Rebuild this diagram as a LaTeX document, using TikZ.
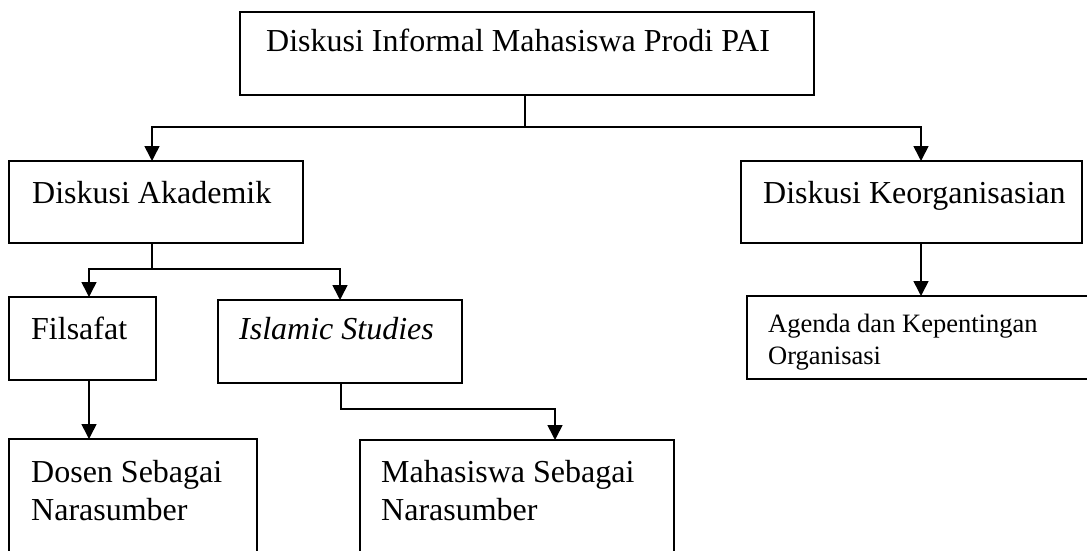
\documentclass[tikz,border=0pt]{standalone}
\usepackage{fontspec}
\setmainfont{Liberation Serif}
\usetikzlibrary{arrows.meta,calc}
\begin{document}
\begin{tikzpicture}[x=1pt,y=-1pt,
  box/.style={draw,line width=1.6pt,anchor=north west,inner sep=0pt,outer sep=0pt},
  lbl/.style={anchor=base west,inner sep=0pt,font=\fontsize{32}{38}\selectfont},
  smalllbl/.style={anchor=base west,inner sep=0pt,font=\fontsize{26.5}{32}\selectfont},
  conn/.style={line width=1.6pt},
  arr/.style={line width=1.6pt,-{Triangle[width=15pt,length=15pt]}}]
\useasboundingbox (0,0) rectangle (1087,551);
\clip (0,0) rectangle (1087,551);
% boxes
\node[box,minimum width=574pt,minimum height=83pt] (top) at (240,12) {};
\node[box,minimum width=294pt,minimum height=82pt] (ak) at (9,161) {};
\node[box,minimum width=341pt,minimum height=82pt] (ko) at (741,161) {};
\node[box,minimum width=147pt,minimum height=83pt] (fil) at (9,297) {};
\node[box,minimum width=244pt,minimum height=83pt] (isl) at (218,300) {};
\node[box,minimum width=400pt,minimum height=83pt] (ag) at (747,296) {};
\node[box,minimum width=248pt,minimum height=200pt] (dos) at (9,439) {};
\node[box,minimum width=314pt,minimum height=200pt] (mah) at (360,440) {};
% texts
\node[lbl] (ttop) at (266,52) {Diskusi Informal Mahasiswa Prodi PAI};
\node[lbl] (tak) at (32,203) {Diskusi Akademik};
\node[lbl] (tko) at (763,203) {Diskusi Keorganisasian};
\node[lbl] (tfil) at (31,339) {Filsafat};
\node[lbl] (tisl) at (239,339) {\itshape Islamic Studies};
\node[smalllbl] (tag1) at (768,332) {Agenda dan Kepentingan};
\node[smalllbl] (tag2) at (768,364) {Organisasi};
\node[lbl] (tdos1) at (31,482) {Dosen Sebagai};
\node[lbl] (tdos2) at (31,520) {Narasumber};
\node[lbl] (tmah1) at (381,482) {Mahasiswa Sebagai};
\node[lbl] (tmah2) at (381,520) {Narasumber};
% junctions
\coordinate (j0) at (525,127);
\coordinate (ja) at (152,127);
\coordinate (jk) at (921,127);
\coordinate (j1) at (152,269);
\coordinate (jf) at (89,269);
\coordinate (ji) at (340,269);
\coordinate (j3) at (341,409);
\coordinate (j4) at (555,409);
% connectors
\draw[conn] (top.south -| j0) -- (j0);
\draw[arr] (j0) -| (ak.north -| ja);
\draw[arr] (j0) -| (ko.north -| jk);
\draw[conn] (ak.south -| j1) -- (j1);
\draw[arr] (j1) -| (fil.north -| jf);
\draw[arr] (j1) -| (isl.north -| ji);
\draw[arr] (fil.south -| jf) -- (dos.north -| jf);
\draw[arr] (isl.south -| j3) -- (j3) -- (j4) -- (mah.north -| j4);
\draw[arr] (ko.south -| jk) -- (ag.north -| jk);
\end{tikzpicture}
\end{document}
